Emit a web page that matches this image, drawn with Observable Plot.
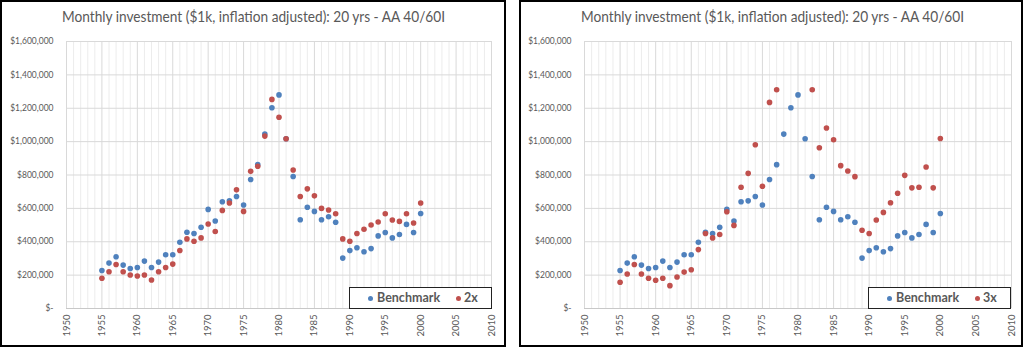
<!DOCTYPE html>
<html><head><meta charset="utf-8">
<script src="https://cdn.jsdelivr.net/npm/d3@7"></script>
<script src="https://cdn.jsdelivr.net/npm/@observablehq/plot@0.6"></script>
<style>
body{margin:0;background:#fff;font-family:Lato,sans-serif;}
#wrap{position:relative;width:1024px;height:349px;overflow:hidden;background:#fff;}
.frame{position:absolute;top:0;height:347px;border:2px solid #000;box-sizing:border-box;}
.title{position:absolute;top:6px;font-size:16px;color:#595959;white-space:nowrap;}
.plot{position:absolute;top:30px;}
.legend{position:absolute;top:287px;height:22px;border:1.5px solid #222;box-sizing:border-box;background:#fff;font-weight:bold;font-size:12.5px;color:#595959;}
.legend span{position:absolute;top:2px;white-space:nowrap;}
.legend i{position:absolute;top:8px;width:5px;height:5px;border-radius:50%;}
</style>
</head><body>
<div id="wrap"></div>
<script>
const years = d3.range(1955, 2001);
const benchmark = [228,272,310,260,240,246,284,246,278,322,322,397,457,449,487,594,524,640,645,671,620,773,862,1045,1203,1280,1017,791,532,607,582,532,550,517,302,347,364,340,359,435,455,423,443,504,455,569];
const series2x = [181,220,264,220,201,195,201,171,220,246,266,348,417,403,423,506,461,588,632,711,582,822,852,1033,1253,1146,1017,830,671,717,675,600,590,568,417,403,449,475,500,518,568,530,522,568,512,632];
const series3x = [157,207,264,207,181,169,181,137,189,218,232,353,449,423,443,580,498,727,810,981,733,1235,1311,null,null,null,null,1311,963,1082,1011,856,824,790,469,449,530,576,634,691,798,723,727,848,723,1019];
const xTicks = d3.range(1950, 2011, 5);
const minorYears = d3.range(1950, 2011).filter(y => y % 5 !== 0);
const yTicks = d3.range(0, 1600001, 200000);
const titleText = "Monthly investment ($1k, inflation adjusted): 20 yrs - AA 40/60I";
const blue = "#4f81bd", red = "#c0504d";

const wrap = document.getElementById("wrap");
const fmt = v => v === 0 ? "$-" : "$" + d3.format(",")(v);

function panel(cfg){
  const frame = document.createElement("div");
  frame.className = "frame";
  frame.style.left = cfg.frameLeft + "px";
  frame.style.width = cfg.frameWidth + "px";
  wrap.appendChild(frame);

  const data = years.map((y, i) => ({year: y, b: benchmark[i] * 1000, s: cfg.series[i] == null ? null : cfg.series[i] * 1000}));
  const plot = Plot.plot({
    width: 505, height: 317,
    marginLeft: cfg.mL, marginRight: cfg.mR, marginTop: 11, marginBottom: 39,
    x: {domain: [1950, 2010]},
    y: {domain: [0, 1600000]},
    style: {fontFamily: "Lato, sans-serif", color: "#595959", background: "transparent"},
    marks: [
      Plot.ruleX(minorYears, {stroke: "#ececec"}),
      Plot.ruleX(xTicks, {stroke: "#d9d9d9"}),
      Plot.ruleY(yTicks.filter(v => v > 0), {stroke: "#d9d9d9"}),
      Plot.ruleY([0], {stroke: "#c8c8c8"}),
      Plot.axisX({ticks: xTicks, tickFormat: d => String(d), tickRotate: -90, tickSize: 0, tickPadding: 6, fontSize: 9.5, label: null}),
      Plot.axisY({ticks: yTicks, tickFormat: fmt, tickSize: 0, tickPadding: 13, fontSize: 8.5, label: null}),
      Plot.dot(data, {x: "year", y: "b", r: 2.8, fill: blue}),
      Plot.dot(data.filter(d => d.s != null), {x: "year", y: "s", r: 2.8, fill: red})
    ]
  });
  plot.classList.add("plot");
  plot.style.left = cfg.svgLeft + "px";
  wrap.appendChild(plot);

  const t = document.createElement("div");
  t.className = "title";
  t.textContent = titleText;
  wrap.appendChild(t);
  const w = t.getBoundingClientRect().width;
  const sx = 383 / w;
  t.style.left = (cfg.titleCenter - 383 / 2) + "px";
  t.style.transformOrigin = "0 0";
  t.style.transform = `scaleX(${sx})`;

  const lg = document.createElement("div");
  lg.className = "legend";
  lg.style.left = cfg.legendLeft + "px";
  lg.style.width = "143px";
  lg.innerHTML = `<i style="left:18px;background:${blue}"></i><span style="left:27px">Benchmark</span>` +
                 `<i style="left:106px;background:${red}"></i><span style="left:114px">${cfg.name}</span>`;
  wrap.appendChild(lg);
}

panel({series: series2x, name: "2x", frameLeft: 0, frameWidth: 506, svgLeft: 0, mL: 66, mR: 14, titleCenter: 253, legendLeft: 349});
panel({series: series3x, name: "3x", frameLeft: 519, frameWidth: 504, svgLeft: 519, mL: 65, mR: 13, titleCenter: 772, legendLeft: 868});
</script>
</body></html>
